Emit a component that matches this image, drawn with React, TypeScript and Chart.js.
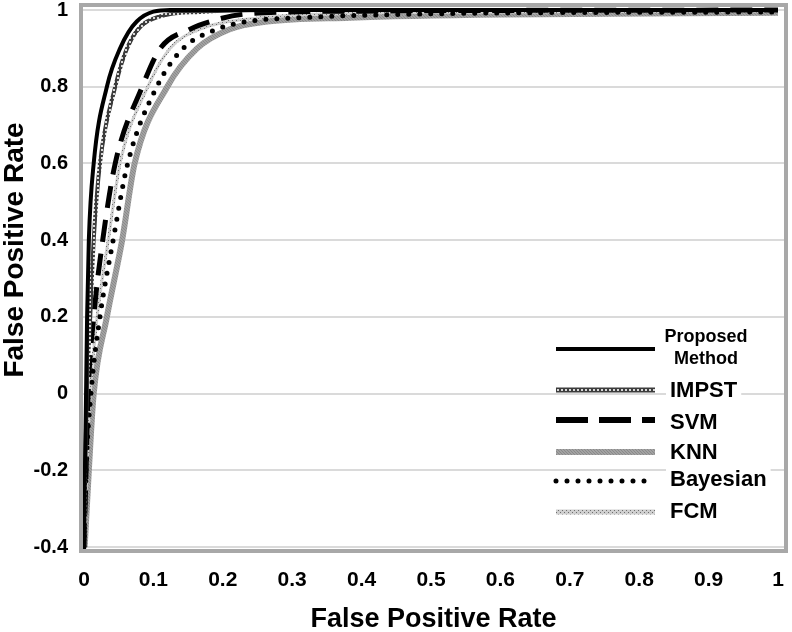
import React, { useEffect, useRef } from 'react';
import { Chart, registerables } from 'chart.js';

Chart.register(...registerables);

// ---- data ----
const seriesNames = ['Proposed Method', 'IMPST', 'SVM', 'KNN', 'Bayesian', 'FCM'];
const xTickValues = [0, 0.1, 0.2, 0.3, 0.4, 0.5, 0.6, 0.7, 0.8, 0.9, 1];
const yTickValues = [-0.4, -0.2, 0, 0.2, 0.4, 0.6, 0.8, 1];
const xAxisTitle = 'False Positive Rate';
const yAxisTitle = 'False Positive Rate';

const proposedX = [0, 0.0014, 0.003, 0.0045, 0.007, 0.014, 0.033, 0.052, 0.076, 0.124, 0.3, 1];
const proposedY = [-0.4, -0.2, 0, 0.2, 0.4, 0.6, 0.8, 0.9, 0.97, 1.0, 1.0, 1.0];

const impstX = [0, 0.0016, 0.004, 0.009, 0.014, 0.023, 0.045, 0.062, 0.091, 0.167, 0.297, 1];
const impstY = [-0.4, -0.2, 0, 0.2, 0.4, 0.6, 0.8, 0.9, 0.97, 0.995, 1.0, 1.0];

const svmX = [0, 0.003, 0.006, 0.014, 0.027, 0.045, 0.084, 0.11, 0.153, 0.182, 0.235, 0.398, 1];
const svmY = [-0.4, -0.2, 0, 0.2, 0.4, 0.6, 0.8, 0.9, 0.95, 0.97, 0.99, 0.997, 1.0];

const knnX = [0.001, 0.007, 0.014, 0.033, 0.055, 0.073, 0.12, 0.163, 0.21, 0.264, 0.383, 0.6, 1];
const knnY = [-0.4, -0.2, 0, 0.2, 0.4, 0.6, 0.8, 0.9, 0.95, 0.97, 0.98, 0.988, 0.993];

const bayesX = [0, 0.003, 0.01, 0.023, 0.042, 0.063, 0.105, 0.143, 0.192, 0.235, 0.311, 0.499, 1];
const bayesY = [-0.4, -0.2, 0, 0.2, 0.4, 0.6, 0.8, 0.9, 0.95, 0.97, 0.98, 0.99, 0.995];

const fcmX = [0, 0.004, 0.009, 0.019, 0.035, 0.052, 0.092, 0.124, 0.167, 0.254, 0.354, 0.6, 1];
const fcmY = [-0.4, -0.2, 0, 0.2, 0.4, 0.6, 0.8, 0.9, 0.95, 0.98, 0.99, 0.995, 0.998];

const toPoints = (xs: number[], ys: number[]) => xs.map((x, i) => ({ x, y: ys[i] }));

const FONT = "'Liberation Sans', Arial, Helvetica, sans-serif";

function makePattern(bg: string, fg: string, size: number, dots: number[][]): CanvasPattern | string {
  const c = document.createElement('canvas');
  c.width = size;
  c.height = size;
  const g = c.getContext('2d');
  if (!g) return bg;
  g.fillStyle = bg;
  g.fillRect(0, 0, size, size);
  g.fillStyle = fg;
  dots.forEach(([x, y, w, h]) => g.fillRect(x, y, w, h));
  const p = g.createPattern(c, 'repeat');
  return p || bg;
}

const frameBorder = {
  id: 'frameBorder',
  afterDatasetsDraw(chart: any) {
    const { ctx, chartArea: a } = chart;
    ctx.save();
    ctx.strokeStyle = '#a8a8a8';
    ctx.lineWidth = 4;
    ctx.strokeRect(a.left, a.top, a.right - a.left, a.bottom - a.top);
    ctx.restore();
  },
};

const yTitle = {
  id: 'yTitle',
  afterDraw(chart: any) {
    const { ctx } = chart;
    ctx.save();
    ctx.translate(15, 250);
    ctx.rotate(-Math.PI / 2);
    ctx.font = `bold 28px ${FONT}`;
    ctx.fillStyle = '#000';
    ctx.textAlign = 'center';
    ctx.textBaseline = 'middle';
    ctx.fillText(yAxisTitle, 0, 0);
    ctx.restore();
  },
};

const legendRows = [
  { sampleY: 349, textY: 348 },
  { sampleY: 390, textY: 390 },
  { sampleY: 420, textY: 422 },
  { sampleY: 452, textY: 452 },
  { sampleY: 481, textY: 479 },
  { sampleY: 512, textY: 511 },
];

const innerLegend = {
  id: 'innerLegend',
  afterDraw(chart: any) {
    const { ctx } = chart;
    const datasets = chart.data.datasets;
    ctx.save();
    datasets.forEach((ds: any, i: number) => {
      const row = legendRows[i];
      if (!row) return;
      ctx.save();
      ctx.beginPath();
      ctx.strokeStyle = ds.borderColor;
      ctx.lineWidth = ds.legendWidth || ds.borderWidth;
      ctx.lineCap = ds.borderCapStyle || 'butt';
      ctx.setLineDash(ds.legendDash || ds.borderDash || []);
      ctx.moveTo(556, row.sampleY);
      ctx.lineTo(655, row.sampleY);
      ctx.stroke();
      ctx.restore();
      const label: string = ds.label;
      ctx.fillStyle = '#000';
      if (label.indexOf(' ') > 0) {
        const parts = label.split(' ');
        ctx.font = `bold 18px ${FONT}`;
        ctx.textAlign = 'center';
        ctx.textBaseline = 'middle';
        ctx.fillText(parts[0], 706, row.textY - 11);
        ctx.fillText(parts[1], 706, row.textY + 11);
      } else {
        ctx.font = `bold 22px ${FONT}`;
        ctx.textAlign = 'left';
        ctx.textBaseline = 'middle';
        const w = ctx.measureText(label).width;
        ctx.fillStyle = '#fff';
        ctx.fillRect(666, row.textY - 12, w + 8, 24);
        ctx.fillStyle = '#000';
        ctx.fillText(label, 670, row.textY + 1);
      }
    });
    ctx.restore();
  },
};

export default function App() {
  const ref = useRef<HTMLCanvasElement | null>(null);

  useEffect(() => {
    document.body.style.margin = '0';
    const canvas = ref.current;
    if (!canvas) return;

    const impstPat = makePattern('#3c3c3c', '#d8d8d8', 4, [[1, 1, 2, 2]]);
    const fcmPat = makePattern('#cfcfcf', '#6e6e6e', 4, [[0, 0, 1, 1], [2, 2, 1, 1]]);
    const knnPat = makePattern('#a2a2a2', '#8a8a8a', 3, [[0, 0, 1, 1], [1, 1, 1, 1], [2, 2, 1, 1]]);

    const common = {
      pointRadius: 0,
      pointHoverRadius: 0,
      fill: false,
      cubicInterpolationMode: 'monotone',
    };

    const chart = new Chart(canvas, {
      type: 'line',
      data: {
        datasets: [
          {
            ...common,
            label: seriesNames[0],
            data: toPoints(proposedX, proposedY),
            borderColor: '#000000',
            borderWidth: 4,
            order: 0,
          },
          {
            ...common,
            label: seriesNames[1],
            data: toPoints(impstX, impstY),
            borderColor: impstPat,
            borderWidth: 4,
            legendWidth: 5,
            order: 1,
          },
          {
            ...common,
            label: seriesNames[2],
            data: toPoints(svmX, svmY),
            borderColor: '#000000',
            borderWidth: 5,
            borderDash: [22, 12],
            legendDash: [32, 11],
            legendWidth: 6,
            order: 2,
          },
          {
            ...common,
            label: seriesNames[3],
            data: toPoints(knnX, knnY),
            borderColor: knnPat,
            borderWidth: 6,
            legendWidth: 6,
            order: 5,
          },
          {
            ...common,
            label: seriesNames[4],
            data: toPoints(bayesX, bayesY),
            borderColor: '#000000',
            borderWidth: 5,
            borderDash: [0, 11],
            borderCapStyle: 'round',
            order: 3,
          },
          {
            ...common,
            label: seriesNames[5],
            data: toPoints(fcmX, fcmY),
            borderColor: fcmPat,
            borderWidth: 3,
            legendWidth: 5,
            order: 4,
          },
        ] as any,
      },
      options: {
        animation: false,
        responsive: false,
        devicePixelRatio: 1,
        layout: { padding: { top: 5, right: 6, left: 0, bottom: 0 } },
        plugins: {
          legend: { display: false },
          tooltip: { enabled: false },
        },
        scales: {
          x: {
            type: 'linear',
            min: -0.0043,
            max: 1.0115,
            afterBuildTicks: (scale: any) => {
              scale.ticks = xTickValues.map((v) => ({ value: v }));
            },
            afterFit: (scale: any) => {
              scale.height = 81;
              scale.paddingLeft = 0;
              scale.paddingRight = 0;
            },
            grid: { display: false, drawTicks: false },
            border: { display: false },
            ticks: {
              padding: 17,
              color: '#000',
              font: { family: FONT, size: 21, weight: 'bold' },
              maxRotation: 0,
              autoSkip: false,
              callback: (v: any) => String(Number(Number(v).toFixed(1))),
            },
            title: {
              display: true,
              text: xAxisTitle,
              color: '#000',
              font: { family: FONT, size: 27, weight: 'bold', lineHeight: 0.9 },
              padding: { top: 0, bottom: 0 },
            },
          },
          y: {
            type: 'linear',
            min: -0.4104,
            max: 1.013,
            afterBuildTicks: (scale: any) => {
              scale.ticks = yTickValues.map((v) => ({ value: v }));
            },
            afterFit: (scale: any) => {
              scale.width = 81;
              scale.paddingTop = 0;
              scale.paddingBottom = 0;
            },
            grid: { color: '#dadada', lineWidth: 2, drawTicks: false },
            border: { display: false },
            ticks: {
              padding: 13,
              color: '#000',
              font: { family: FONT, size: 20, weight: 'bold' },
              autoSkip: false,
              callback: (v: any) => String(Number(Number(v).toFixed(1))),
            },
            title: { display: false },
          },
        },
      } as any,
      plugins: [frameBorder, innerLegend, yTitle],
    });

    return () => chart.destroy();
  }, []);

  return (
    <div style={{ width: 792, height: 632, background: '#fff' }}>
      <canvas ref={ref} width={792} height={632} style={{ display: 'block' }} />
    </div>
  );
}
